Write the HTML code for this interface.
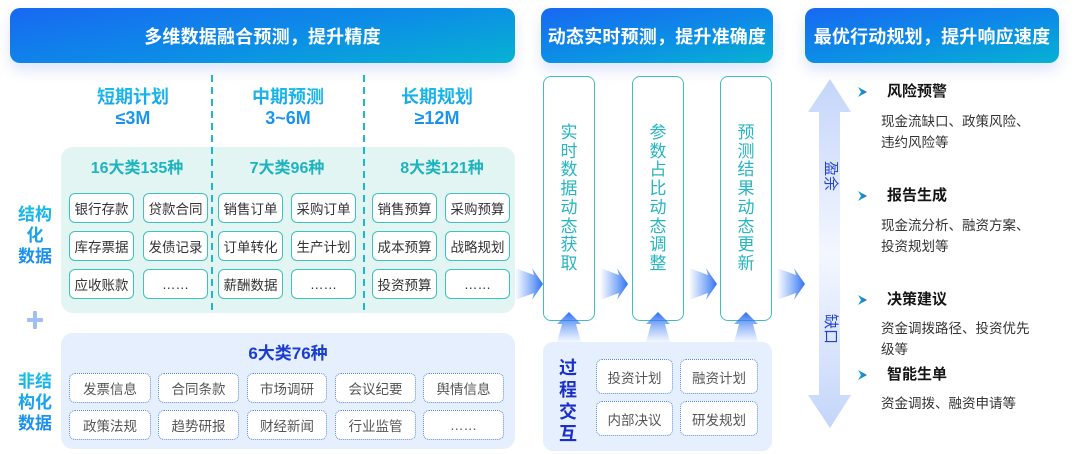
<!DOCTYPE html>
<html>
<head>
<meta charset="utf-8">
<style>
*{margin:0;padding:0;box-sizing:border-box;}
html,body{width:1079px;height:454px;background:#ffffff;overflow:hidden;}
body{position:relative;font-family:"Liberation Sans","Noto Sans CJK SC",sans-serif;}
.abs{position:absolute;}
.hdr{position:absolute;top:8px;height:55px;border-radius:10px;
  background:linear-gradient(170deg,#1868f2 0%,#0c8ee6 55%,#07b2d2 100%);
  box-shadow:0 7px 14px rgba(70,110,230,0.18);
  color:#fff;font-weight:bold;font-size:18px;display:flex;align-items:center;justify-content:center;letter-spacing:0.2px;}
.colh{position:absolute;width:140px;text-align:center;font-weight:bold;font-size:18px;line-height:21px;
  background:linear-gradient(180deg,#18bde6 0%,#1a86ee 100%);-webkit-background-clip:text;background-clip:text;color:transparent;}
.cat{position:absolute;width:140px;text-align:center;font-weight:bold;font-size:16px;color:#1db4bd;line-height:20px;}
.sb{position:absolute;width:65px;height:30px;background:#fff;border:1.5px solid #3ec2bc;border-radius:6px;
  font-size:13.5px;color:#333;display:flex;align-items:center;justify-content:center;}
.db{position:absolute;background:#fff;border:1.5px dotted #4d86f0;border-radius:6px;
  font-size:13.5px;color:#555;display:flex;align-items:center;justify-content:center;}
.lbl{position:absolute;width:50px;text-align:center;font-weight:bold;font-size:17px;line-height:21px;
  background:linear-gradient(180deg,#17c0e8 0%,#1a86ee 100%);-webkit-background-clip:text;background-clip:text;color:transparent;}
.vb{position:absolute;top:76px;width:52px;height:245px;background:#fff;border:1.5px solid #3fc0bc;border-radius:8px;}
.vt{position:absolute;top:124px;width:20px;font-size:17px;line-height:18.7px;color:#27b5c1;text-align:center;word-break:break-all;}
.ttl{position:absolute;left:887px;font-weight:bold;font-size:15px;color:#151515;line-height:18px;}
.dsc{position:absolute;left:881px;font-size:13.5px;color:#333;line-height:21px;white-space:nowrap;}
.rot{position:absolute;font-size:15px;color:#2343cf;transform:rotate(90deg);line-height:16px;width:32px;text-align:center;}
</style>
</head>
<body>

<!-- headers -->
<div class="hdr" style="left:10px;width:505px;">多维数据融合预测，提升精度</div>
<div class="hdr" style="left:541px;width:232px;">动态实时预测，提升准确度</div>
<div class="hdr" style="left:805px;width:254px;">最优行动规划，提升响应速度</div>

<!-- panels -->
<div class="abs" style="left:61px;top:147px;width:454px;height:166px;background:#e3f5f3;border-radius:12px;"></div>
<div class="abs" style="left:61px;top:333px;width:454px;height:116px;background:#e6effd;border-radius:12px;"></div>
<div class="abs" style="left:543px;top:342px;width:229px;height:109px;background:#e6effd;border-radius:10px;"></div>

<!-- dashed lines -->
<svg class="abs" style="left:0;top:0;" width="1079" height="454">
  <line x1="212" y1="75" x2="212" y2="313" stroke="#1eb8c8" stroke-width="2" stroke-dasharray="7 5"/>
  <line x1="364" y1="75" x2="364" y2="313" stroke="#1eb8c8" stroke-width="2" stroke-dasharray="7 5"/>
</svg>

<!-- column headings -->
<div class="colh" style="left:63px;top:87px;">短期计划<br>≤3M</div>
<div class="colh" style="left:218px;top:87px;">中期预测<br>3~6M</div>
<div class="colh" style="left:367px;top:87px;">长期规划<br>≥12M</div>

<div class="cat" style="left:67px;top:159px;">16大类135种</div>
<div class="cat" style="left:217px;top:159px;">7大类96种</div>
<div class="cat" style="left:372px;top:159px;">8大类121种</div>

<!-- structured boxes -->
<div class="sb" style="left:69px;top:193px;">银行存款</div>
<div class="sb" style="left:143px;top:193px;">贷款合同</div>
<div class="sb" style="left:218px;top:193px;">销售订单</div>
<div class="sb" style="left:291px;top:193px;">采购订单</div>
<div class="sb" style="left:372px;top:193px;">销售预算</div>
<div class="sb" style="left:445px;top:193px;">采购预算</div>

<div class="sb" style="left:69px;top:231px;">库存票据</div>
<div class="sb" style="left:143px;top:231px;">发债记录</div>
<div class="sb" style="left:218px;top:231px;">订单转化</div>
<div class="sb" style="left:291px;top:231px;">生产计划</div>
<div class="sb" style="left:372px;top:231px;">成本预算</div>
<div class="sb" style="left:445px;top:231px;">战略规划</div>

<div class="sb" style="left:69px;top:269px;">应收账款</div>
<div class="sb" style="left:143px;top:269px;">……</div>
<div class="sb" style="left:218px;top:269px;">薪酬数据</div>
<div class="sb" style="left:291px;top:269px;">……</div>
<div class="sb" style="left:372px;top:269px;">投资预算</div>
<div class="sb" style="left:445px;top:269px;">……</div>

<!-- left labels -->
<div class="lbl" style="left:10px;top:204px;">结构<br>化<br>数据</div>
<div class="lbl" style="left:10px;top:371px;">非结<br>构化<br>数据</div>

<!-- plus -->
<div class="abs" style="left:27px;top:318px;width:16px;height:4px;background:#9ec0f7;border-radius:1px;"></div>
<div class="abs" style="left:33px;top:311px;width:4px;height:18px;background:#9ec0f7;border-radius:1px;"></div>

<!-- non-structured -->
<div class="abs" style="left:188px;top:344px;width:200px;text-align:center;font-weight:bold;font-size:17px;color:#1b3dd0;line-height:20px;">6大类76种</div>
<div class="db" style="left:69px;top:373px;width:82px;height:30px;">发票信息</div>
<div class="db" style="left:158px;top:373px;width:81px;height:30px;">合同条款</div>
<div class="db" style="left:247px;top:373px;width:80px;height:30px;">市场调研</div>
<div class="db" style="left:335px;top:373px;width:81px;height:30px;">会议纪要</div>
<div class="db" style="left:423px;top:373px;width:81px;height:30px;">舆情信息</div>
<div class="db" style="left:69px;top:410px;width:82px;height:30px;">政策法规</div>
<div class="db" style="left:158px;top:410px;width:81px;height:30px;">趋势研报</div>
<div class="db" style="left:247px;top:410px;width:80px;height:30px;">财经新闻</div>
<div class="db" style="left:335px;top:410px;width:81px;height:30px;">行业监管</div>
<div class="db" style="left:423px;top:410px;width:81px;height:30px;">……</div>

<!-- vertical boxes -->
<div class="vb" style="left:543px;"></div>
<div class="vb" style="left:632px;"></div>
<div class="vb" style="left:720px;"></div>
<div class="vt" style="left:559px;">实时数据动态获取</div>
<div class="vt" style="left:648px;">参数占比动态调整</div>
<div class="vt" style="left:736px;">预测结果动态更新</div>

<!-- interaction -->
<div class="abs" style="left:557px;top:357px;width:22px;text-align:center;font-weight:bold;font-size:18px;line-height:22px;color:#1a2fc8;">过程交互</div>
<div class="db" style="left:596px;top:359px;width:77px;height:35px;">投资计划</div>
<div class="db" style="left:680px;top:359px;width:78px;height:35px;">融资计划</div>
<div class="db" style="left:596px;top:401px;width:77px;height:35px;">内部决议</div>
<div class="db" style="left:680px;top:401px;width:78px;height:35px;">研发规划</div>

<!-- arrows overlay -->
<svg class="abs" style="left:0;top:0;" width="1079" height="454">
  <defs>
    <linearGradient id="ha" x1="0" y1="0" x2="1" y2="0">
      <stop offset="0" stop-color="#3b7cf5" stop-opacity="0"/>
      <stop offset="0.55" stop-color="#3b7cf5" stop-opacity="0.55"/>
      <stop offset="1" stop-color="#2f6ff4" stop-opacity="1"/>
    </linearGradient>
    <linearGradient id="va" x1="0" y1="0" x2="0" y2="1">
      <stop offset="0" stop-color="#2f6ff4" stop-opacity="1"/>
      <stop offset="0.5" stop-color="#3b7cf5" stop-opacity="0.5"/>
      <stop offset="1" stop-color="#3b7cf5" stop-opacity="0.05"/>
    </linearGradient>
    <linearGradient id="da" x1="0" y1="0" x2="0" y2="1">
      <stop offset="0" stop-color="#c3d5fa"/>
      <stop offset="0.5" stop-color="#f4f7fe"/>
      <stop offset="1" stop-color="#c3d5fa"/>
    </linearGradient>
    <linearGradient id="ch" x1="0" y1="0" x2="1" y2="0">
      <stop offset="0" stop-color="#11b3bf"/>
      <stop offset="1" stop-color="#1f66e6"/>
    </linearGradient>
  </defs>
  <!-- horizontal arrows -->
  <g fill="url(#ha)">
    <polygon points="515,268 534,275 532,268 543,284 532,300 534,293 515,300"/>
    <polygon points="600,268 619,275 617,268 628,284 617,300 619,293 600,300"/>
    <polygon points="689,268 708,275 706,268 717,284 706,300 708,293 689,300"/>
    <polygon points="777,268 796,275 794,268 805,284 794,300 796,293 777,300"/>
  </g>
  <!-- up arrows -->
  <g fill="url(#va)">
    <polygon points="569,312 557,324 562,324 557,342 581,342 576,324 581,324"/>
    <polygon points="658,312 646,324 651,324 646,342 670,342 665,324 670,324"/>
    <polygon points="746,312 734,324 739,324 734,342 758,342 753,324 758,324"/>
  </g>
  <!-- double arrow -->
  <polygon fill="url(#da)" points="830,79 851,112 840,112 840,395 851,395 830,428 808,395 819,395 819,112 808,112"/>
  <!-- chevrons -->
  <g fill="url(#ch)">
    <polygon points="858,87 867,92 858,97 861,92"/>
    <polygon points="858,191 867,196 858,201 861,196"/>
    <polygon points="858,295 867,300 858,305 861,300"/>
    <polygon points="858,370 867,375 858,380 861,375"/>
  </g>
</svg>

<!-- rotated labels -->
<div class="rot" style="left:814px;top:168px;">盈余</div>
<div class="rot" style="left:814px;top:321px;">缺口</div>

<!-- right content -->
<div class="ttl" style="top:83px;">风险预警</div>
<div class="dsc" style="top:111px;">现金流缺口、政策风险、<br>违约风险等</div>
<div class="ttl" style="top:187px;">报告生成</div>
<div class="dsc" style="top:215px;">现金流分析、融资方案、<br>投资规划等</div>
<div class="ttl" style="top:291px;">决策建议</div>
<div class="dsc" style="top:318px;">资金调拨路径、投资优先<br>级等</div>
<div class="ttl" style="top:366px;">智能生单</div>
<div class="dsc" style="top:393px;">资金调拨、融资申请等</div>

</body>
</html>
